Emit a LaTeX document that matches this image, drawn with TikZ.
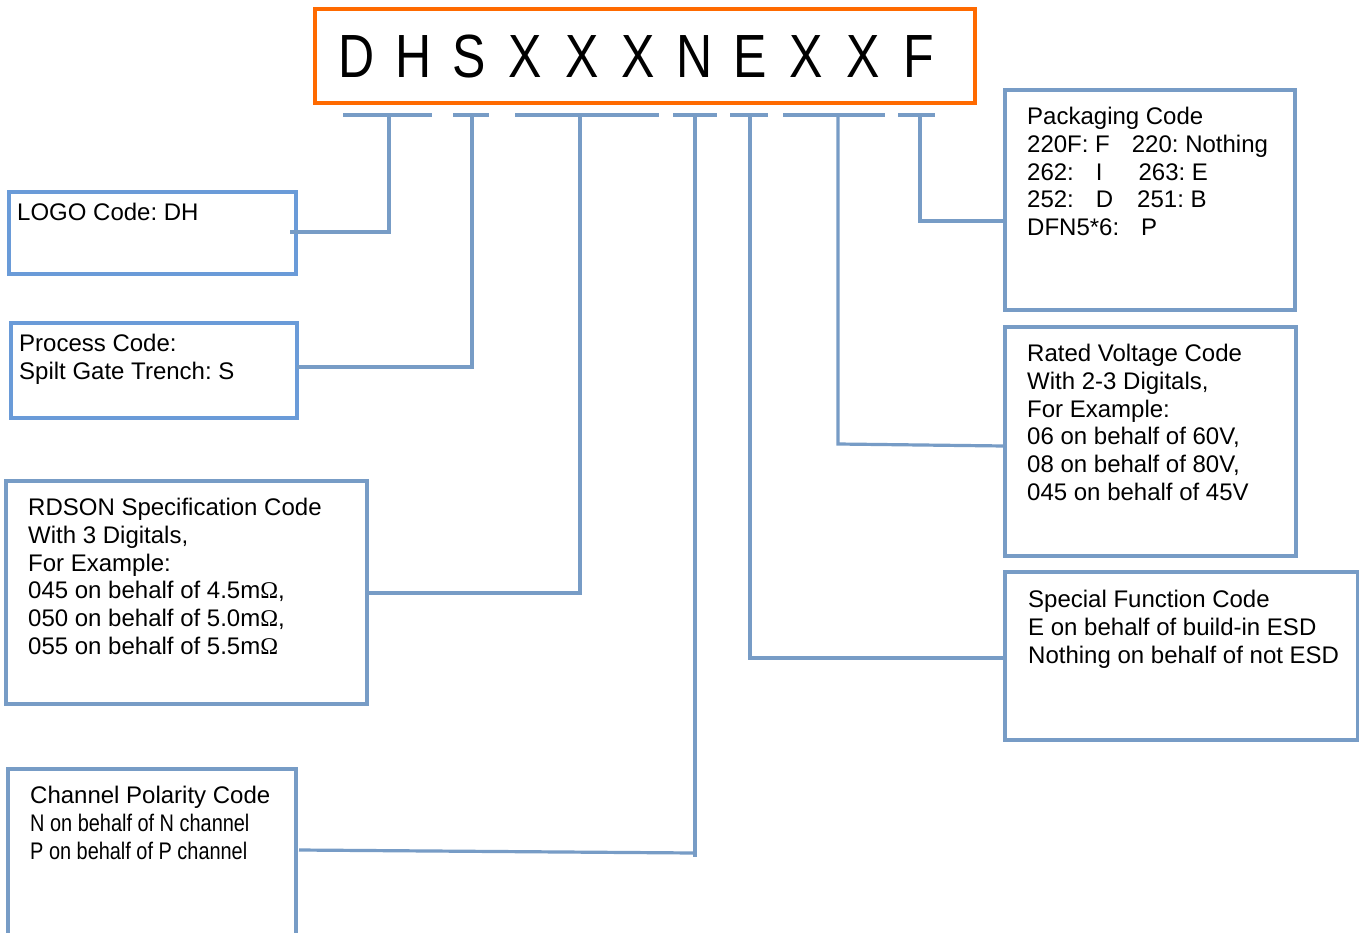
\documentclass[tikz,border=0pt]{standalone}
\usepackage{fontspec}
\setmainfont{Liberation Sans}
\newfontfamily\omfont{Liberation Serif}
\definecolor{lineblue}{HTML}{779CC6}
\definecolor{boxblue}{HTML}{6A9BD8}
\definecolor{codeorange}{HTML}{FF6A00}
\newcommand{\Om}{{\omfont Ω}}
\newcommand{\nar}[1]{\scalebox{0.83}[1]{#1}}
\frenchspacing
\begin{document}
\begin{tikzpicture}[x=1pt,y=-1pt,
  box/.style={draw=lineblue, line width=3.2pt, anchor=north west, inner sep=0pt, outer sep=0pt},
  bbox/.style={box, draw=boxblue},
  lbl/.style={anchor=north west, inner sep=0pt, align=left, font=\fontsize{24}{27.7}\selectfont},
  conn/.style={draw=lineblue, line width=3.2pt},
  uline/.style={draw=lineblue, line width=3.4pt},
  letter/.style={anchor=base, inner sep=0pt, font=\fontsize{61}{61}\selectfont}
]
\clip (0,0) rectangle (1359,932);
\fill[white] (0,0) rectangle (1359,932);

% title box
\node[draw=codeorange, line width=3.2pt, anchor=north west, inner sep=0pt, outer sep=0pt,
      minimum width=660pt, minimum height=94pt] (title) at (315,9) {};
\foreach \ch [count=\i from 0] in {D,H,S,X,X,X,N,E,X,X,F}{
  \node[letter] (t\i) at (357+56.2*\i,77) {\scalebox{0.82}[1]{\ch}};
}

% underline segments
\coordinate (u1a) at (343,115); \coordinate (u1b) at (432,115); \coordinate (u1m) at (389,113);
\coordinate (u2a) at (453,115); \coordinate (u2b) at (489,115); \coordinate (u2m) at (472,113);
\coordinate (u3a) at (515,115); \coordinate (u3b) at (659,115); \coordinate (u3m) at (580,113);
\coordinate (u4a) at (673,115); \coordinate (u4b) at (717,115); \coordinate (u4m) at (695,113);
\coordinate (u5a) at (730,115); \coordinate (u5b) at (768,115); \coordinate (u5m) at (750,113);
\coordinate (u6a) at (783,115); \coordinate (u6b) at (885,115); \coordinate (u6m) at (838,113);
\coordinate (u7a) at (898,115); \coordinate (u7b) at (935,115); \coordinate (u7m) at (920,113);
\foreach \k in {1,...,7}{ \draw[uline] (u\k a) -- (u\k b); }

% boxes
\node[bbox, minimum width=287pt, minimum height=82pt] (logo) at (9,192) {};
\node[bbox, minimum width=286pt, minimum height=95pt] (proc) at (11,323) {};
\node[box, minimum width=361pt, minimum height=223pt] (rds) at (6,481) {};
\node[box, minimum width=288pt, minimum height=190pt] (chan) at (8,769) {};
\node[box, minimum width=290pt, minimum height=220pt] (pack) at (1005,90) {};
\node[box, minimum width=291pt, minimum height=229pt] (rated) at (1005,327) {};
\node[box, minimum width=353pt, minimum height=168pt] (spec) at (1005,572) {};

% texts
\node[lbl] (logoT) at (17,202.5) {\rule{0pt}{18pt}LOGO Code: DH};
\node[lbl] (procT) at (19,333.5) {\rule{0pt}{18pt}Process Code:\\Spilt Gate Trench: S};
\node[lbl] (rdsT) at (28,497.5) {\rule{0pt}{18pt}RDSON Specification Code\\With 3 Digitals,\\For Example:\\045 on behalf of 4.5m\Om,\\050 on behalf of 5.0m\Om,\\055 on behalf of 5.5m\Om};
\node[lbl] (chanT) at (30,785.5) {\rule{0pt}{18pt}Channel Polarity Code\\\nar{N on behalf of N channel}\\\nar{P on behalf of P channel}};
\node[lbl] (packT) at (1027,106.5) {\rule{0pt}{18pt}Packaging Code\\220F: F\hspace{22pt}220: Nothing\\262:\hspace{22pt}I\hspace{36pt}263: E\\252:\hspace{22pt}D\hspace{24pt}251: B\\DFN5*6:\hspace{22pt}P};
\node[lbl] (ratedT) at (1027,343.5) {\rule{0pt}{18pt}Rated Voltage Code\\With 2-3 Digitals,\\For Example:\\06 on behalf of 60V,\\08 on behalf of 80V,\\045 on behalf of 45V};
\node[lbl] (specT) at (1028,589.5) {\rule{0pt}{18pt}Special Function Code\\E on behalf of build-in ESD\\Nothing on behalf of not ESD};

% connectors
\coordinate (e1) at (290,232);
\coordinate (e2) at (proc.east |- 0,367);
\coordinate (e3) at (rds.east |- 0,593);
\coordinate (e4) at (299,850);
\coordinate (c4) at (695,857);
\coordinate (c4b) at (695,853);
\coordinate (e5) at (spec.west |- 0,658);
\coordinate (c6) at (838,444);
\coordinate (e6) at (1005,446);
\coordinate (e7) at (pack.west |- 0,221);

\draw[conn] (u1m) |- (e1);
\draw[conn] (u2m) |- (e2);
\draw[conn] (u3m) |- (e3);
\draw[conn] (u4m) -- (c4);
\draw[conn] (e4) -- (c4b);
\draw[conn] (u5m) |- (e5);
\draw[conn] (u6m) -- (c6) -- (e6);
\draw[conn] (u7m) |- (e7);
\end{tikzpicture}
\end{document}
